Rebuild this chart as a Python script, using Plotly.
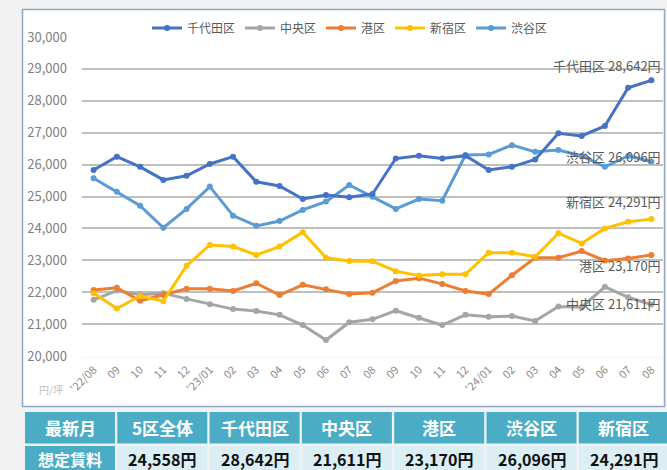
import plotly.graph_objects as go

W, H = 667, 470

months = ["'22/08", "09", "10", "11", "12", "'23/01", "02", "03", "04", "05", "06", "07",
          "08", "09 ", "10 ", "11 ", "12 ", "'24/01", "02 ", "03 ", "04 ", "05 ", "06 ", "07 ", "08 "]
month_labels = ["'22/08", "09", "10", "11", "12", "'23/01", "02", "03", "04", "05", "06", "07",
                "08", "09", "10", "11", "12", "'24/01", "02", "03", "04", "05", "06", "07", "08"]

chiyoda = [25830, 26250, 25930, 25520, 25650, 26020, 26250, 25460, 25330, 24920, 25050, 24980,
           25080, 26190, 26280, 26190, 26280, 25830, 25930, 26160, 26980, 26900, 27210, 28410, 28642]
chuo = [21760, 22050, 21920, 21970, 21790, 21620, 21470, 21410, 21290, 20970, 20500, 21060,
        21150, 21420, 21200, 20970, 21290, 21230, 21250, 21100, 21550, 21530, 22170, 21840, 21611]
minato = [22070, 22140, 21730, 21910, 22110, 22110, 22040, 22280, 21910, 22230, 22090, 21940,
          21980, 22350, 22440, 22260, 22040, 21940, 22530, 23080, 23080, 23290, 22990, 23060, 23170]
shinjuku = [21970, 21490, 21880, 21720, 22830, 23480, 23430, 23170, 23430, 23880, 23080, 22980,
            22970, 22660, 22520, 22560, 22560, 23240, 23240, 23110, 23850, 23530, 24000, 24210, 24291]
shibuya = [25570, 25150, 24710, 24020, 24610, 25310, 24400, 24080, 24230, 24580, 24840, 25360,
           24990, 24610, 24920, 24870, 26300, 26320, 26610, 26400, 26460, 26270, 25930, 26270, 26096]

series_names = ["千代田区", "中央区", "港区", "新宿区", "渋谷区"]
series_values = [chiyoda, chuo, minato, shinjuku, shibuya]
series_colors = ["#4472C4", "#A5A5A5", "#ED7D31", "#FFC000", "#5B9BD5"]

label_texts = ["千代田区 28,642円", "中央区 21,611円", "港区 23,170円", "新宿区 24,291円", "渋谷区 26,096円"]
label_y = [29120, 21660, 22850, 24830, 26240]

table_header = ["最新月", "5区全体", "千代田区", "中央区", "港区", "渋谷区", "新宿区"]
table_row = ["想定賃料", "24,558円", "28,642円", "21,611円", "23,170円", "26,096円", "24,291円"]

FONT = "Noto Sans CJK JP"

fig = go.Figure()

# chart frame
fig.add_shape(type="rect", xref="paper", yref="paper",
              x0=22.5 / W, x1=664.5 / W, y0=1 - 406.5 / H, y1=1 - 9.5 / H,
              line=dict(color="#8FA8C8", width=1.5), fillcolor="white", layer="below")

draw_order = [4, 1, 2, 3, 0]
for i in draw_order:
    fig.add_trace(go.Scatter(
        x=months, y=series_values[i], name=series_names[i], mode="lines+markers",
        line=dict(color=series_colors[i], width=3),
        marker=dict(size=6, color=series_colors[i]),
        legendrank=i + 1,
    ))

for t, yv in zip(label_texts, label_y):
    fig.add_annotation(x=663 / W, xref="paper", y=yv, yref="y", text=t, showarrow=False,
                       xanchor="right", yanchor="middle",
                       font=dict(family=FONT, size=13, color="#595959"))

fig.add_annotation(x=37 / W, y=1 - 389 / H, xref="paper", yref="paper", text="円/坪",
                   showarrow=False, xanchor="left", yanchor="middle",
                   font=dict(family=FONT, size=10, color="#C0C0C0"))

# summary table (drawn as cells)
col_left, col_w, col_gap = 25, 90, 2.3
rows = [(table_header, 412, 443.5), (table_row, 446, 482)]
for r, (texts, top, bot) in enumerate(rows):
    for j, txt in enumerate(texts):
        x0 = col_left + j * (col_w + col_gap)
        x1 = x0 + col_w
        teal = (r == 0 or j == 0)
        fig.add_shape(type="rect", xref="paper", yref="paper",
                      x0=x0 / W, x1=x1 / W, y0=1 - bot / H, y1=1 - top / H,
                      line=dict(width=0), fillcolor="#4BACC6" if teal else "#DAEEF3", layer="below")
        cy = (top + 443.5) / 2 if r == 0 else 458.5
        fig.add_annotation(x=(x0 + x1) / 2 / W, y=1 - cy / H, xref="paper", yref="paper",
                           text="<b>%s</b>" % txt, showarrow=False, xanchor="center", yanchor="middle",
                           font=dict(family=FONT, size=17 if r == 0 else 16,
                                     color="white" if teal else "#111111"))

fig.update_layout(
    width=W, height=H,
    margin=dict(l=0, r=0, t=0, b=0),
    paper_bgcolor="#F2F2F2",
    plot_bgcolor="white",
    template="none",
    font=dict(family=FONT, color="#7F7F7F"),
    showlegend=True,
    legend=dict(orientation="h", x=350 / W, xanchor="center", y=1 - 28 / H, yanchor="middle",
                font=dict(family=FONT, size=12, color="#595959"), bgcolor="rgba(0,0,0,0)",
                itemwidth=30, tracegroupgap=0),
    xaxis=dict(domain=[82 / W, 663 / W], type="category", range=[-0.5, 24.5],
               tickvals=months, ticktext=month_labels, tickangle=-45,
               tickfont=dict(family=FONT, size=11, color="#8A8A8A"),
               showgrid=False, showline=True, linecolor="#FAFAFA", linewidth=3,
               ticks="", automargin=False, zeroline=False),
    yaxis=dict(domain=[1 - 356 / H, 1 - 37 / H], range=[20000, 30000], dtick=1000,
               tickformat=",d", tickfont=dict(family=FONT, size=13, color="#808080"),
               showgrid=True, gridcolor="#BFBFBF", gridwidth=2, zeroline=False,
               showline=False, ticks="", ticklabelstandoff=14, automargin=False),
)

fig.write_html("out.html", config={"displayModeBar": False},
               post_script="document.body.style.margin='0';document.body.style.overflow='hidden';")
